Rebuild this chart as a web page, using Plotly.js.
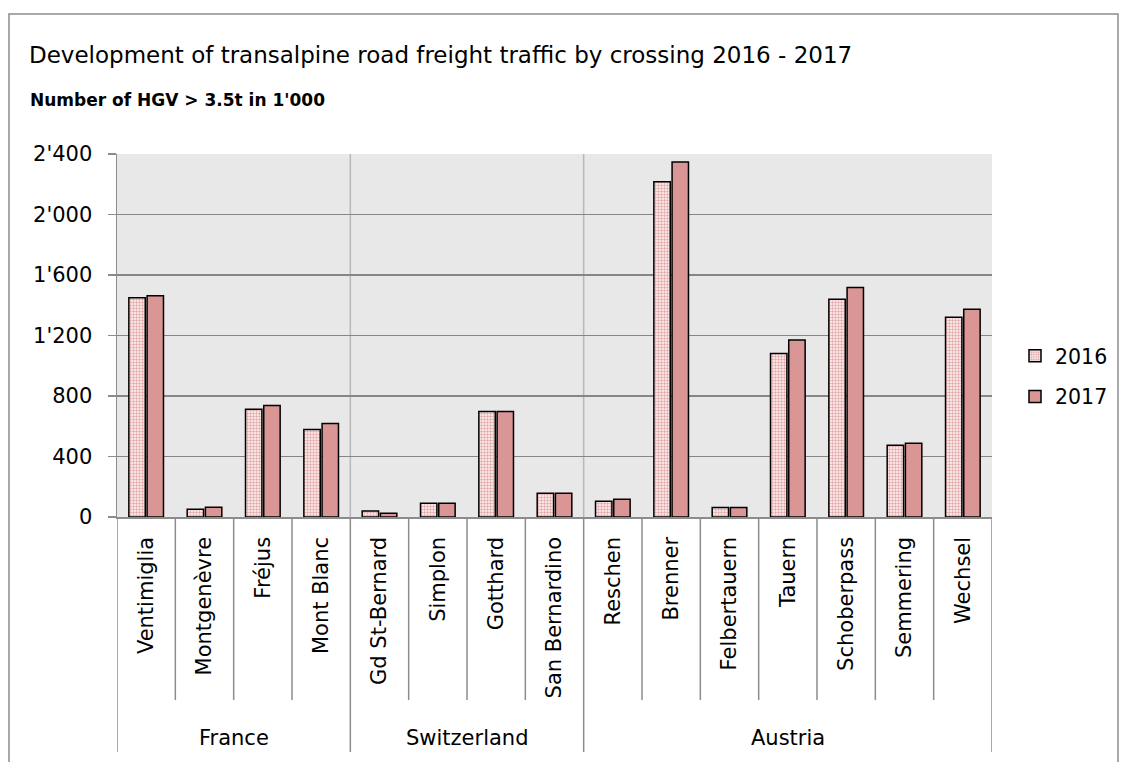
<!DOCTYPE html>
<html>
<head>
<meta charset="utf-8">
<script src="https://cdn.plot.ly/plotly-3.0.1.min.js"></script>
<style>html,body{margin:0;padding:0;background:#fff;}#chart{width:1126px;height:762px;}</style>
</head>
<body>
<div id="chart"></div>
<script>
// ---- data ----
const crossings = ['Ventimiglia','Montgenèvre','Fréjus','Mont Blanc','Gd St-Bernard','Simplon','Gotthard','San Bernardino','Reschen','Brenner','Felbertauern','Tauern','Schoberpass','Semmering','Wechsel'];
const countries = ['France','Switzerland','Austria'];
const countryCounts = [4, 4, 7];
const v2016 = [1449, 51, 713, 578, 40, 91, 697, 157, 104, 2217, 62, 1081, 1439, 474, 1320];
const v2017 = [1463, 64, 737, 618, 24, 91, 697, 157, 117, 2347, 62, 1171, 1518, 488, 1373];
const seriesNames = ['2016', '2017'];
const yTicks = [0, 400, 800, 1200, 1600, 2000, 2400];
const titleText = 'Development of transalpine road freight traffic by crossing 2016 - 2017';
const subtitleText = "Number of HGV > 3.5t in 1'000";

// ---- layout geometry ----
const W = 1126, H = 762;
const M = {l: 117, r: 134, t: 154, b: 245};
const PW = W - M.l - M.r, PH = H - M.t - M.b;
const px = x => (x - M.l) / PW;
const py = y => (H - M.b - y) / PH;
const FONT = 'DejaVu Sans, sans-serif';
const GRID = '#868686';
const AXIS = '#8C8C8C';

const traces = [
  {
    type: 'bar', name: seriesNames[0], x: crossings, y: v2016, legendgroup: 'a',
    marker: {color: '#F4DADA', line: {color: '#000', width: 1.5},
      pattern: {shape: '.', fgcolor: '#E3A9A9', bgcolor: '#FFF5F5', size: 3, solidity: 0.5}},
    hoverinfo: 'x+y+name'
  },
  {
    type: 'bar', name: seriesNames[1], x: crossings, y: v2017, legendgroup: 'b',
    marker: {color: '#D99694', line: {color: '#000', width: 1.5}},
    hoverinfo: 'x+y+name'
  }
];

const shapes = [];
// outer chart border
shapes.push({type: 'rect', xref: 'paper', yref: 'paper', x0: px(9), x1: px(1118), y0: py(14), y1: py(775),
  line: {color: AXIS, width: 1.5}, fillcolor: 'rgba(0,0,0,0)', layer: 'above'});
// category dividers below the axis, group dividers longer + in-plot separators
const groupEdges = [-0.5];
countryCounts.reduce((acc, n) => { acc += n; groupEdges.push(acc - 0.5); return acc; }, 0);
for (let i = 0; i <= crossings.length; i++) {
  const xv = i - 0.5;
  const isGroup = groupEdges.includes(xv);
  shapes.push({type: 'line', xref: 'x', yref: 'paper', x0: xv, x1: xv, y0: 0, y1: py(isGroup ? 752 : 700),
    line: {color: AXIS, width: 1.5}});
  if (isGroup && i > 0 && i < crossings.length) {
    shapes.push({type: 'line', xref: 'x', yref: 'paper', x0: xv, x1: xv, y0: 0, y1: 1,
      line: {color: '#B8B8B8', width: 1.5}, layer: 'below'});
  }
}

const annotations = [
  {xref: 'paper', yref: 'paper', x: px(27), y: py(55), xanchor: 'left', yanchor: 'middle', showarrow: false,
    text: titleText, font: {family: FONT, size: 23, color: '#000'}},
  {xref: 'paper', yref: 'paper', x: px(28), y: py(100), xanchor: 'left', yanchor: 'middle', showarrow: false,
    text: '<b>' + subtitleText + '</b>', font: {family: FONT, size: 17, color: '#000'}}
];
let start = 0;
countries.forEach((c, k) => {
  const center = start + (countryCounts[k] - 1) / 2;
  annotations.push({xref: 'x', yref: 'paper', x: center, y: py(738), xanchor: 'center', yanchor: 'middle',
    showarrow: false, text: c, font: {family: FONT, size: 21, color: '#000'}});
  start += countryCounts[k];
});

const layout = {
  width: W, height: H,
  margin: M,
  paper_bgcolor: '#FFFFFF', plot_bgcolor: '#E8E8E8',
  separators: ".'",
  barmode: 'group', bargap: 0.375, bargroupgap: 0.1,
  font: {family: FONT, color: '#000'},
  showlegend: true,
  legend: {x: px(1015), y: py(336), xanchor: 'left', yanchor: 'top', traceorder: 'grouped', tracegroupgap: 11,
    font: {family: FONT, size: 20.5, color: '#000'}, bgcolor: 'rgba(0,0,0,0)'},
  xaxis: {type: 'category', categoryorder: 'array', categoryarray: crossings, range: [-0.5, crossings.length - 0.5],
    showgrid: false, zeroline: false, showline: true, linecolor: AXIS, linewidth: 1.5, ticks: '',
    tickangle: -90, tickfont: {family: FONT, size: 21, color: '#000'}, ticklabelstandoff: 10, fixedrange: true},
  yaxis: {range: [0, 2400], tickvals: yTicks, tickformat: ',d', showgrid: true, gridcolor: GRID, gridwidth: 1.3,
    zeroline: false, showline: true, linecolor: AXIS, linewidth: 1.5, ticks: 'outside', ticklen: 8,
    tickcolor: AXIS, tickwidth: 1.5, tickfont: {family: FONT, size: 21, color: '#000'}, ticklabelstandoff: 11, fixedrange: true},
  shapes: shapes,
  annotations: annotations
};

Plotly.newPlot('chart', traces, layout, {displayModeBar: false, staticPlot: true});
</script>
</body>
</html>
